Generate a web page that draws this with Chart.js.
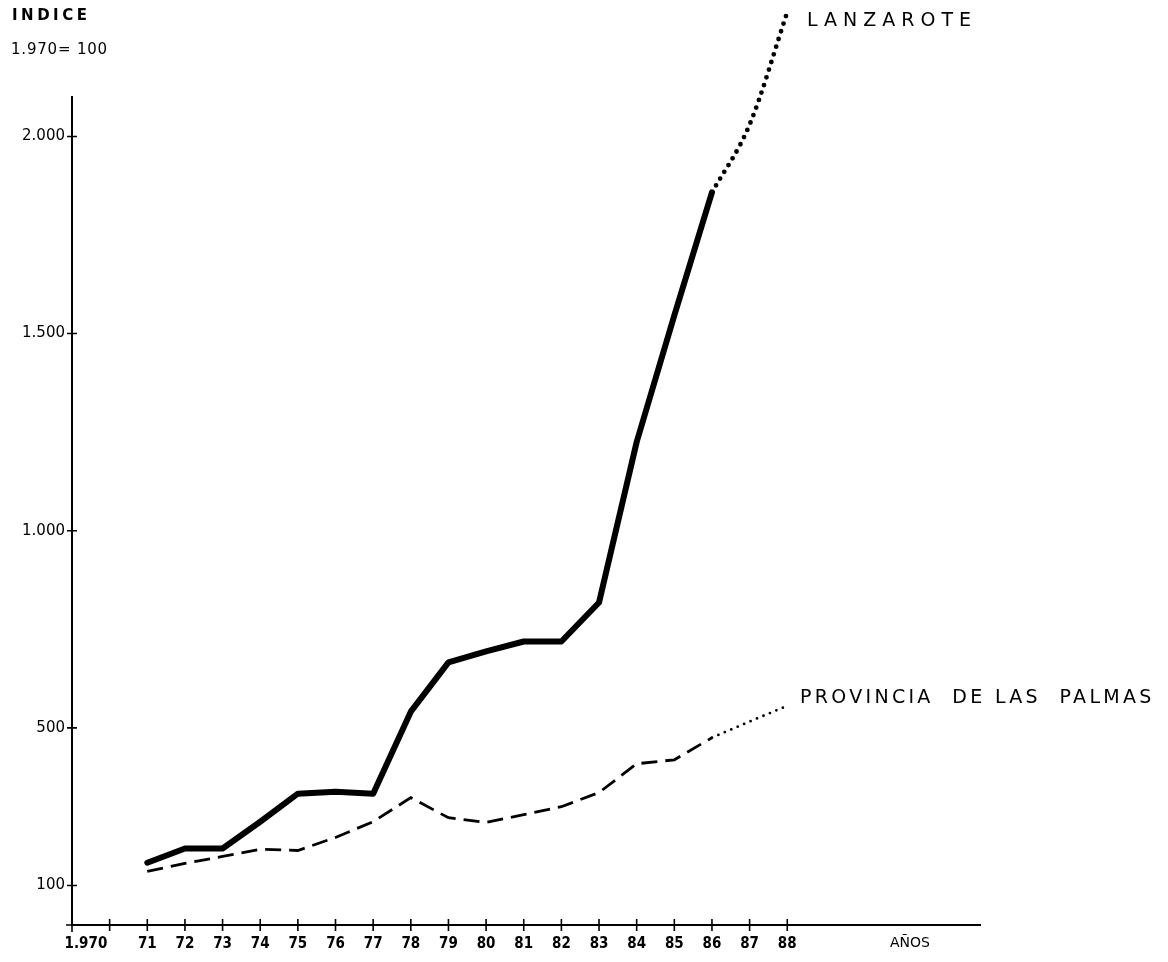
<!DOCTYPE html>
<html>
<head>
<meta charset="utf-8">
<script src="https://cdn.jsdelivr.net/npm/chart.js@4/dist/chart.umd.min.js"></script>
<style>
  html, body { margin: 0; padding: 0; background: #fff; }
  #wrap { position: relative; width: 1168px; height: 962px; }
  canvas { position: absolute; left: 0; top: 0; }
  .lbl { position: absolute; color: #000; font-family: "DejaVu Sans", sans-serif; white-space: pre; line-height: 1; }
</style>
</head>
<body>
<div id="wrap">
  <canvas id="c" width="1168" height="962"></canvas>
  <div class="lbl" style="left:12px; top:8px; font-size:15px; font-weight:bold; letter-spacing:3.5px;">INDICE</div>
  <div class="lbl" style="left:11px; top:42px; font-size:15px; letter-spacing:0.8px;">1.970= 100</div>
  <div class="lbl" style="left:807px; top:10px; font-size:19px; letter-spacing:6px;">LANZAROTE</div>
  <div class="lbl" style="left:800px; top:687px; font-size:19px; letter-spacing:3.3px;">PROVINCIA  DE LAS  PALMAS</div>
</div>
<script>
// ---- data ----
const years = [71, 72, 73, 74, 75, 76, 77, 78, 79, 80, 81, 82, 83, 84, 85, 86, 87, 88];
const lanzarote = [158, 194, 194, 262, 333, 338, 333, 541, 666, 694, 719, 719, 818, 1225, 1546, 1858, 2030, 2315];
const palmas = [136, 156, 174, 192, 189, 222, 262, 323, 272, 260, 280, 300, 336, 409, 419, 475, 516, 556];
const projectionFromYear = 86;          // after this year the series are drawn dotted
const yTicks = [100, 500, 1000, 1500, 2000];
const xTickYears = [70, 71, 72, 73, 74, 75, 76, 77, 78, 79, 80, 81, 82, 83, 84, 85, 86, 87, 88];
const xLabelPositions = [69.37, 71, 72, 73, 74, 75, 76, 77, 78, 79, 80, 81, 82, 83, 84, 85, 86, 87, 88, 91.26];
const xLabelTexts = ['1.970', '71', '72', '73', '74', '75', '76', '77', '78', '79', '80', '81', '82', '83', '84', '85', '86', '87', '88', 'AÑOS'];

const pts = (arr) => years.map((y, i) => ({ x: y, y: arr[i] }));
const observed = (arr) => pts(arr).filter(p => p.x <= projectionFromYear);
const projected = (arr) => pts(arr).filter(p => p.x >= projectionFromYear);

const fmt = (v) => String(v).replace(/\B(?=(\d{3})+(?!\d))/g, '.');

const axisMarks = {
  id: 'axisMarks',
  afterDraw(chart) {
    const ctx = chart.ctx, xs = chart.scales.x, ys = chart.scales.y;
    const x0 = xs.left, y0 = ys.bottom;
    ctx.save();
    ctx.strokeStyle = '#000';
    ctx.lineWidth = 1.6;
    ctx.beginPath();
    ctx.moveTo(x0 - 6, y0); ctx.lineTo(x0, y0);
    ctx.moveTo(x0, y0); ctx.lineTo(x0, y0 + 7);
    yTicks.forEach(v => {
      const py = ys.getPixelForValue(v);
      ctx.moveTo(x0 - 5, py); ctx.lineTo(x0 + 5, py);
    });
    [69].concat(xTickYears).forEach(v => {
      const px = xs.getPixelForValue(v);
      ctx.moveTo(px, y0 - 6); ctx.lineTo(px, y0 + 6);
    });
    ctx.stroke();
    ctx.restore();
  }
};

new Chart(document.getElementById('c'), {
  type: 'line',
  data: {
    datasets: [
      { label: 'LANZAROTE', data: observed(lanzarote), borderColor: '#000', borderWidth: 6,
        borderJoinStyle: 'round', borderCapStyle: 'round', pointRadius: 0, clip: false, tension: 0 },
      { label: 'LANZAROTE (proyección)', data: projected(lanzarote), borderColor: '#000', borderWidth: 4.8,
        borderDash: [0, 8], borderCapStyle: 'round', pointRadius: 0, clip: false, cubicInterpolationMode: 'monotone' },
      { label: 'PROVINCIA DE LAS PALMAS', data: observed(palmas), borderColor: '#000', borderWidth: 2.8,
        borderDash: [16, 8], borderCapStyle: 'butt', pointRadius: 0, clip: false, tension: 0 },
      { label: 'PROVINCIA DE LAS PALMAS (proyección)', data: projected(palmas), borderColor: '#000', borderWidth: 2.8,
        borderDash: [0, 7], borderCapStyle: 'round', pointRadius: 0, clip: false, tension: 0 }
    ]
  },
  options: {
    responsive: false,
    animation: false,
    layout: { padding: { top: 97, right: 188, bottom: 0, left: 0 } },
    plugins: { legend: { display: false }, tooltip: { enabled: false } },
    scales: {
      x: {
        type: 'linear', min: 69, max: 93.12,
        afterBuildTicks: (s) => { s.ticks = xLabelPositions.map(v => ({ value: v })); },
        afterFit: (s) => { s.height = 962 - 925; },
        grid: { display: false, drawTicks: false },
        border: { display: true, color: '#000', width: 2 },
        ticks: {
          autoSkip: false, maxRotation: 0, padding: 10, color: '#000',
          font: (ctx) => ctx.index === xLabelTexts.length - 1
            ? { family: 'DejaVu Sans', size: 14, weight: 'normal' }
            : { family: 'DejaVu Sans Condensed', size: 15, weight: 'bold' },
          callback: (v, i) => xLabelTexts[i]
        }
      },
      y: {
        type: 'linear', min: 0, max: 2100,
        afterBuildTicks: (s) => { s.ticks = yTicks.map(v => ({ value: v })); },
        afterFit: (s) => { s.width = 72; },
        grid: { display: false, drawTicks: false },
        border: { display: true, color: '#000', width: 2 },
        ticks: { padding: 7, color: '#000', font: { family: 'DejaVu Sans', size: 15 }, callback: (v) => fmt(v) }
      }
    }
  },
  plugins: [axisMarks]
});
</script>
</body>
</html>
